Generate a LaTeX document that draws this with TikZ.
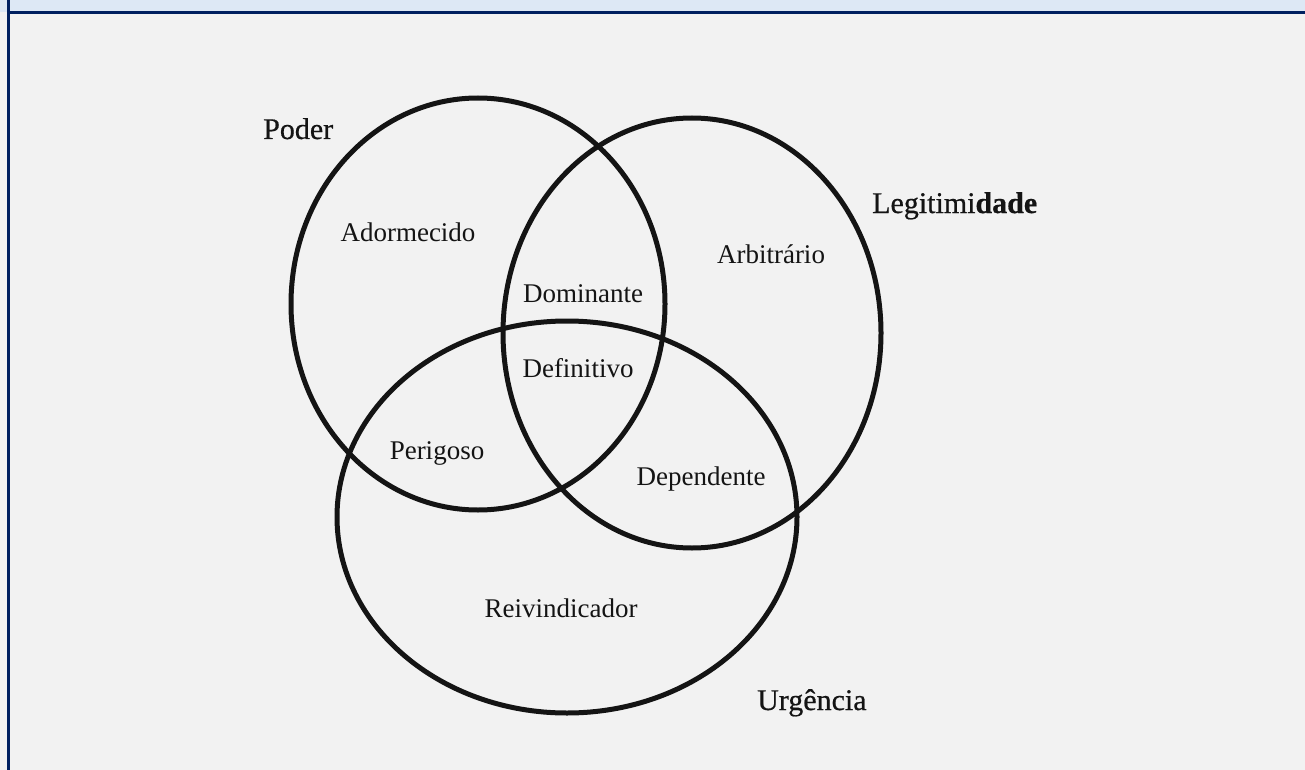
\documentclass[tikz,border=0pt]{standalone}
\usepackage{fontspec}
\setmainfont{Liberation Serif}
\newfontfamily\setlabelfont{Liberation Serif}[FakeBold=0.6]
\definecolor{bgGray}{HTML}{F2F2F2}
\definecolor{stripBlue}{HTML}{DDE8F5}
\definecolor{navyLine}{HTML}{002060}
\definecolor{inkBlack}{HTML}{141414}
\tikzset{
  setring/.style={draw=inkBlack, line width=5pt},
  regionlabel/.style={text=inkBlack, inner sep=0pt, anchor=base, font=\fontsize{27}{32}\selectfont},
  setlabel/.style={text=inkBlack, inner sep=0pt, anchor=base west, font=\setlabelfont\fontsize{30}{36}\selectfont}
}
\begin{document}
\begin{tikzpicture}[x=1pt,y=-1pt]
\useasboundingbox (0,0) rectangle (1305,770);
\fill[bgGray] (0,0) rectangle (1305,770);
\fill[stripBlue] (0,0) rectangle (1305,12);
\fill[navyLine] (6.5,11.5) rectangle (1305,14.5);
\fill[navyLine] (6.5,0) rectangle (9.5,770);
% sets
\draw[setring] (478,304) ellipse [x radius=187pt, y radius=206pt];
\draw[setring] (692,333) ellipse [x radius=189pt, y radius=215pt];
\draw[setring] (567,517) ellipse [x radius=230pt, y radius=196pt];
% set labels
\node[setlabel] (poder) at (263,139) {Poder};
\node[setlabel] (legit) at (872,213) {Legitimi\textbf{dade}};
\node[setlabel] (urg) at (757,710) {Urgência};
% region labels
\node[regionlabel] (adorm) at (408,241) {Adormecido};
\node[regionlabel] (arbit) at (771,263) {Arbitrário};
\node[regionlabel] (domin) at (583,302) {Dominante};
\node[regionlabel] (defin) at (578,377) {Definitivo};
\node[regionlabel] (perig) at (437,459) {Perigoso};
\node[regionlabel] (depen) at (701,485) {Dependente};
\node[regionlabel] (reivi) at (561,617) {Reivindicador};
\end{tikzpicture}
\end{document}
